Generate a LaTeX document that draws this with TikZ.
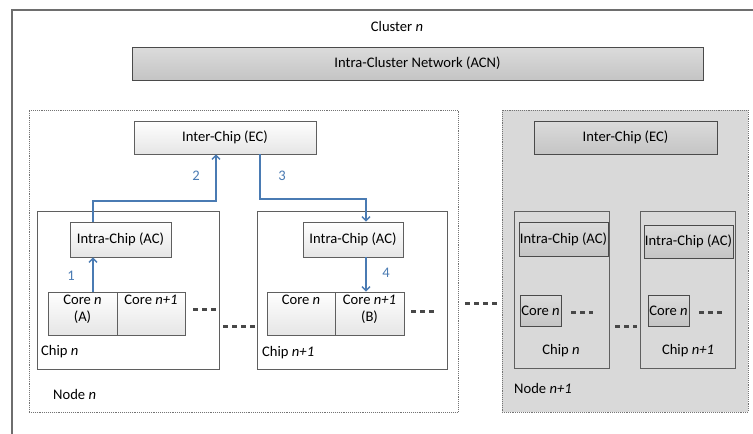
\documentclass[tikz,border=0pt]{standalone}
\usepackage{fontspec}
\setmainfont{Carlito}
\usetikzlibrary{arrows.meta,shadows}
\definecolor{flow}{HTML}{4A7BB3}
\definecolor{framegray}{HTML}{6E6E6E}
\definecolor{boxline}{HTML}{5F5F5F}
\definecolor{darkline}{HTML}{4A4A4A}
\definecolor{nodefill}{HTML}{D9D9D9}
\definecolor{dotgray}{HTML}{484848}
\newcommand{\lbl}{\fontsize{14.6}{17}\selectfont}
\tikzset{
  txt/.style={inner sep=0pt, font=\lbl, align=center},
  lightbox/.style={draw=boxline, line width=0.8pt, top color=white, bottom color=black!10,
    drop shadow={shadow xshift=1.2pt, shadow yshift=-1.2pt, opacity=0.35, fill=black!50},
    inner sep=0pt, font=\lbl},
  graybox/.style={draw=darkline, line width=0.9pt, top color=black!14, bottom color=black!23,
    drop shadow={shadow xshift=1.2pt, shadow yshift=-1.2pt, opacity=0.35, fill=black!60},
    inner sep=0pt, font=\lbl},
  chipbox/.style={draw=boxline, line width=0.8pt, inner sep=0pt},
  nodearea/.style={draw=black!55, densely dotted, line width=0.9pt, inner sep=0pt},
  flowline/.style={draw=flow, line width=1.8pt, -{Straight Barb[length=4pt,width=8pt,line width=1.4pt]}},
  flownum/.style={text=flow, inner sep=0pt, font=\fontsize{14.6}{15}\selectfont},
  ellipsis/.style={draw=dotgray, line width=3pt, dash pattern=on 5pt off 4pt},
}
\begin{document}
\begin{tikzpicture}[x=1pt, y=-1pt]
\useasboundingbox (0,0) rectangle (753,434);

% cluster frame (open to the right and bottom)
\coordinate (clBL) at (12,434);
\coordinate (clTL) at (12,10);
\coordinate (clTR) at (753,10);
\draw[framegray, line width=1.3pt] (clBL) -- (clTL) -- (clTR);
\node[txt] (cluster) at (397,26) {Cluster \textit{n}};
\node[graybox, minimum width=571pt, minimum height=33pt] (acn) at (417.5,63.5)
  {Intra-Cluster Network (ACN)};

% ---------------- node n ----------------
\node[nodearea, fill=white, minimum width=429pt, minimum height=302pt] (noden) at (243.5,261) {};
\node[lightbox, minimum width=182pt, minimum height=33pt] (ecL) at (225,137.5) {Inter-Chip (EC)};

% chip n
\node[chipbox, minimum width=182pt, minimum height=158pt] (chipA) at (128,290) {};
\node[lightbox, minimum width=101pt, minimum height=35pt] (acA) at (120.5,239.5) {Intra-Chip (AC)};
\node[lightbox, minimum width=69pt, minimum height=43pt] (coreA1) at (82.5,313.5) {};
\node[lightbox, minimum width=68pt, minimum height=43pt] (coreA2) at (151,313.5) {};
\node[txt, anchor=north] (coreA1t) at ([yshift=-3pt]coreA1.north) {Core \textit{n}\\(A)};
\node[txt, anchor=north] (coreA2t) at ([yshift=-3pt]coreA2.north) {Core \textit{n+1}};
\coordinate (dA1) at (193,309);
\coordinate (dA2) at (216,309);
\draw[ellipsis] (dA1) -- (dA2);
\node[txt, anchor=west] (chipAt) at (41,352) {Chip \textit{n}};

% between the chips
\coordinate (dM1) at (223,326);
\coordinate (dM2) at (255,326);
\draw[ellipsis] (dM1) -- (dM2);

% chip n+1
\node[chipbox, minimum width=190pt, minimum height=158pt] (chipB) at (352,290) {};
\node[lightbox, minimum width=100pt, minimum height=35pt] (acB) at (353,239.5) {Intra-Chip (AC)};
\node[lightbox, minimum width=68pt, minimum height=43pt] (coreB1) at (301,313.5) {};
\node[lightbox, minimum width=69pt, minimum height=43pt] (coreB2) at (369.5,313.5) {};
\node[txt, anchor=north] (coreB1t) at ([yshift=-3pt]coreB1.north) {Core \textit{n}};
\node[txt, anchor=north] (coreB2t) at ([yshift=-3pt]coreB2.north) {Core \textit{n+1}\\(B)};
\coordinate (dB1) at (411,311);
\coordinate (dB2) at (434,311);
\draw[ellipsis] (dB1) -- (dB2);
\node[txt, anchor=west] (chipBt) at (262,353) {Chip \textit{n+1}};

\node[txt, anchor=west] (nodent) at (53,394) {Node \textit{n}};

% message path 1-4
\draw[flowline] (coreA1.north -| 93,0) -- (acA.south -| 93,0);
\draw[flowline] (acA.north -| 93,0) |- (216,201) -- (ecL.south -| 216,0);
\draw[flowline] (ecL.south -| 260,0) |- (366,199) -- (acB.north -| 366,0);
\draw[flowline] (acB.south -| 366,0) -- (coreB2.north -| 366,0);
\node[flownum] (n1) at (71,276) {1};
\node[flownum] (n2) at (196,176) {2};
\node[flownum] (n3) at (282,176) {3};
\node[flownum] (n4) at (386,273) {4};

% between the nodes
\coordinate (dN1) at (465,303);
\coordinate (dN2) at (497,303);
\draw[ellipsis] (dN1) -- (dN2);

% ---------------- node n+1 ----------------
\node[nodearea, fill=nodefill, minimum width=246pt, minimum height=302pt] (nodem) at (625,261) {};
\node[graybox, minimum width=183pt, minimum height=33pt] (ecR) at (625.5,137.5) {Inter-Chip (EC)};

\node[chipbox, minimum width=95pt, minimum height=157pt] (chipC) at (561.5,289.5) {};
\node[graybox, minimum width=89pt, minimum height=34pt] (acC) at (563.5,239) {Intra-Chip (AC)};
\node[graybox, minimum width=41pt, minimum height=31pt] (coreC) at (540.5,310.5) {Core \textit{n}};
\coordinate (dC1) at (571,312);
\coordinate (dC2) at (593,312);
\draw[ellipsis] (dC1) -- (dC2);
\node[txt] (chipCt) at (561,351) {Chip \textit{n}};

\coordinate (dR1) at (615,326);
\coordinate (dR2) at (637,326);
\draw[ellipsis] (dR1) -- (dR2);

\node[chipbox, minimum width=95pt, minimum height=157pt] (chipD) at (687.5,289.5) {};
\node[graybox, minimum width=89pt, minimum height=33pt] (acD) at (688.5,241.5) {Intra-Chip (AC)};
\node[graybox, minimum width=41pt, minimum height=31pt] (coreD) at (668.5,310.5) {Core \textit{n}};
\coordinate (dD1) at (699,312);
\coordinate (dD2) at (723,312);
\draw[ellipsis] (dD1) -- (dD2);
\node[txt] (chipDt) at (688,351) {Chip \textit{n+1}};

\node[txt, anchor=west] (nodemt) at (514,388) {Node \textit{n+1}};
\end{tikzpicture}
\end{document}
